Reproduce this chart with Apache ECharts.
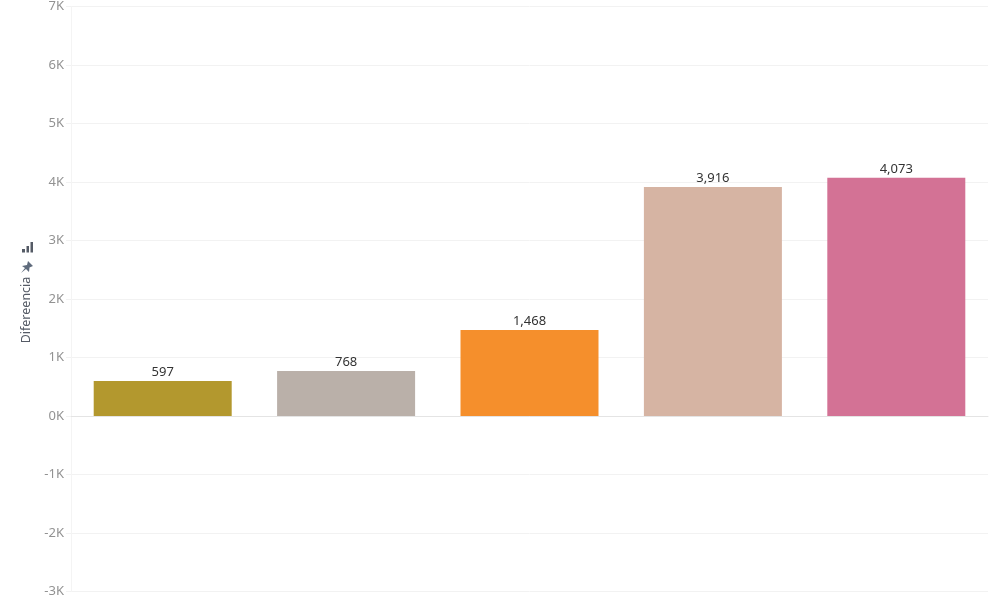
<!DOCTYPE html>
<html><head><meta charset="utf-8">
<style>html,body{margin:0;padding:0;background:#fff}#c{width:1000px;height:600px}</style>
<script src="https://cdn.jsdelivr.net/npm/echarts@6/dist/echarts.min.js"></script>
</head><body><div id="c"></div>
<script>
const categories = ['A','B','C','D','E'];
const values = [597,768,1468,3916,4073];
const colors = ['#b3982e','#bab0a9','#f58f2c','#d6b4a3','#d37295'];
const FONT = '"Noto Sans","Open Sans",sans-serif';
const chart = echarts.init(document.getElementById('c'), null, {renderer:'canvas'});
chart.setOption({
  animation:false,
  backgroundColor:'#fff',
  grid:{left:71,right:12,top:6,bottom:8.5,containLabel:false},
  xAxis:{type:'category',data:categories,
    axisLabel:{show:false},axisTick:{show:false},
    axisLine:{onZero:true,lineStyle:{color:'#e4e4e4',width:1}}},
  yAxis:{type:'value',min:-3000,max:7000,interval:1000,
    name:'Difereencia',nameLocation:'middle',nameGap:35,nameRotate:90,
    nameTextStyle:{color:'#555b66',fontFamily:FONT,fontSize:12.5,padding:[0,22,0,0]},
    position:'left',
    axisLabel:{color:'#929292',fontFamily:FONT,fontSize:13,margin:7,padding:[2,0,0,0],formatter:v=>(v/1000)+'K'},
    axisTick:{show:true,length:5,lineStyle:{color:'#f2f2f2'}},
    axisLine:{show:true,onZero:false,lineStyle:{color:'#f4f4f4'}},
    splitLine:{show:true,lineStyle:{color:'#f2f2f2',width:1}}},
  series:[{type:'bar',barWidth:138,
    data:values.map((v,i)=>({value:v,itemStyle:{color:colors[i]}})),
    label:{show:true,position:'top',distance:2,color:'#333',fontFamily:FONT,fontSize:13,
      formatter:p=>p.value.toLocaleString('en-US')}}],
  graphic:[
    {type:'rect',shape:{x:22,y:249,width:3,height:3.5},style:{fill:'#555b66'}},
    {type:'rect',shape:{x:26.5,y:246,width:2.5,height:6.5},style:{fill:'#555b66'}},
    {type:'rect',shape:{x:30.5,y:242,width:2.5,height:10.5},style:{fill:'#555b66'}},
    {type:'polygon',shape:{points:[[21,273],[25,268],[22,266],[27,265],[28,261],[33,266],[29.5,267.5],[29,272],[26,269]]},style:{fill:'#5f6b7c'}}
  ]
});
</script></body></html>
